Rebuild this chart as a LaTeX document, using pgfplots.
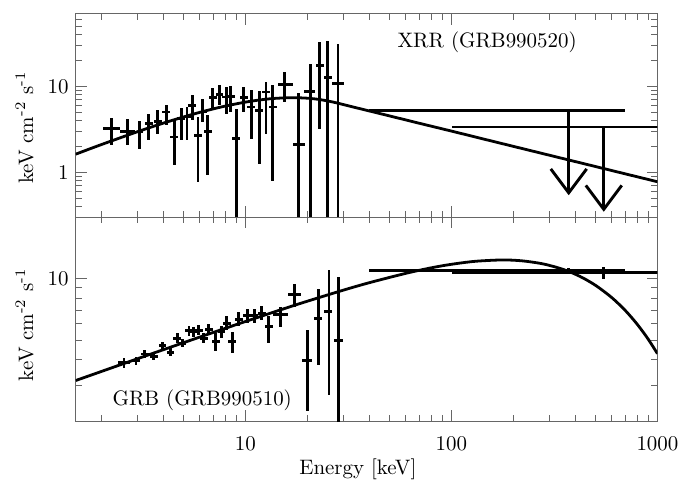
\documentclass[border=0pt]{standalone}
\usepackage{pgfplots}
\pgfplotsset{compat=1.18}
\usepackage{pgfplotstable}
\usetikzlibrary{arrows.meta,calc}

% XRR GRB990520 : WFC points  (E, F, E range, F range)
\pgfplotstableread{
E F Elo Ehi Flo Fhi
2.245 3.222 2.045 2.462 2.100 4.291
2.683 2.997 2.462 2.910 2.061 4.211
3.051 2.950 2.917 3.188 1.886 3.917
3.400 3.684 3.250 3.553 2.400 4.815
3.757 3.917 3.592 3.926 2.818 5.259
4.139 5.039 3.957 4.325 3.587 6.127
4.524 2.580 4.325 4.728 1.206 4.211
4.890 4.211 4.675 5.110 2.356 5.609
5.204 4.408 4.975 5.438 2.356 5.761
5.526 6.014 5.283 5.775 4.024 8.008
5.883 2.693 5.624 6.148 0.773 4.408
6.219 5.039 5.945 6.499 3.855 7.194
6.553 2.997 6.265 6.848 0.923 4.600
6.950 7.389 6.644 7.263 5.504 9.581
7.487 8.072 7.158 7.824 6.014 10.27
8.069 7.528 7.714 8.432 4.815 9.840
8.492 7.650 8.118 8.874 5.039 10.11
9.048 2.466 8.650 9.455 0.05 5.504
9.81 7.449 9.378 10.25 5.039 9.840
10.69 5.761 10.22 11.17 2.466 8.985
11.69 5.259 11.18 12.22 1.262 8.748
12.59 8.607 12.04 13.16 2.818 11.25
13.55 5.761 12.95 14.16 0.786 10.47
15.55 10.55 14.32 16.93 6.587 14.71
18.09 2.117 16.93 19.49 0.05 8.380
20.61 8.748 19.28 21.79 0.05 18.37
22.96 17.55 21.90 24.00 3.222 32.84
24.98 12.86 24.00 26.40 0.05 34.26
28.14 10.95 26.41 30.08 0.05 31.37
}\xrrwfc

% XRR upper limits (GRBM)
\pgfplotstableread{
E F Elo Ehi
371 5.2 39.7 698
549 3.37 101 1200
}\xrrul

% XRR model
\pgfplotstableread{
E F
1.5 1.625
2 2.104
3 2.976
4 3.741
5 4.408
6 4.99
7 5.487
8 5.913
10 6.57
12 7.01
14 7.27
17 7.40
20 7.30
23 7.03
27 6.53
35 5.60
50 4.54
70 3.72
100 3.02
150 2.374
200 2.003
300 1.577
500 1.167
700 0.957
1000 0.776
}\xrrmodel

% GRB990510 : WFC points
\pgfplotstableread{
E F Elo Ehi Flo Fhi
2.574 3.879 2.412 2.746 3.667 4.103
2.942 3.967 2.815 3.075 3.793 4.149
3.252 4.272 3.111 3.398 4.084 4.468
3.594 4.164 3.438 3.756 3.981 4.355
3.959 4.696 3.787 4.137 4.490 4.912
4.327 4.355 4.139 4.522 4.164 4.555
4.658 5.097 4.456 4.868 4.819 5.392
4.945 4.819 4.730 5.168 4.607 5.040
5.323 5.557 5.092 5.563 5.254 5.878
5.609 5.495 5.366 5.861 5.195 5.813
5.928 5.594 5.671 6.195 5.289 5.917
6.268 5.097 5.996 6.550 4.819 5.392
6.648 5.657 6.359 6.947 5.348 5.984
7.165 4.912 6.854 7.487 4.420 5.391
7.657 5.495 7.325 8.002 5.137 5.878
8.123 6.033 7.770 8.489 5.577 6.526
8.625 4.912 8.251 9.013 4.306 5.495
9.282 6.332 8.879 9.700 5.853 6.850
10.19 6.577 9.748 10.65 6.080 7.115
11.05 6.577 10.57 11.55 6.080 7.115
11.99 6.750 11.47 12.53 6.240 7.302
12.96 5.811 12.40 13.54 4.819 6.577
14.76 6.674 13.55 16.01 5.811 7.278
17.25 8.356 16.01 18.58 7.278 9.454
20.0 3.967 18.79 21.14 2.253 5.594
22.60 6.381 21.6 23.6 3.777 8.937
25.45 6.880 24.0 26.4 2.696 10.98
28.23 5.0 26.9 29.74 1.0 10.19
}\grbwfc

% GRB990510 : GRBM points
\pgfplotstableread{
E F Elo Ehi Flo Fhi
371 10.98 39.7 698 10.62 11.28
549 10.7 101 1200 9.92 11.40
}\grbgrbm

% GRB model
\pgfplotstableread{
E F
1.5 3.169
2 3.511
3 4.055
4 4.488
6 5.172
8 5.713
10 6.166
15 7.063
20 7.754
30 8.791
40 9.554
60 10.61
80 11.30
100 11.75
130 12.15
176 12.34
220 12.22
280 11.79
350 11.08
420 10.26
500 9.276
600 8.076
700 6.961
800 5.955
900 5.067
1000 4.290
}\grbmodel

\begin{document}
\begin{tikzpicture}[font=\fontsize{10.5}{12.5}\selectfont]
% ---------------- top panel ----------------
\begin{axis}[name=top,
  xmode=log, ymode=log, scale only axis, width=292pt, height=102pt,
  xmin=1.5, xmax=1000, ymin=0.3, ymax=70,
  axis line style={black!60, line width=0.5pt},
  every tick/.style={black!60, line width=0.5pt},
  major tick length=5.5pt, minor tick length=3pt,
  xtick={10,100,1000}, xticklabels={},
  minor xtick={2,3,4,5,6,7,8,9,20,30,40,50,60,70,80,90,200,300,400,500,600,700,800,900},
  ytick={1,10}, yticklabels={1,10},
  minor ytick={0.3,0.4,0.5,0.6,0.7,0.8,0.9,2,3,4,5,6,7,8,9,20,30,40,50,60,70},
  ylabel={keV cm\textsuperscript{-2} s\textsuperscript{-1}},
  ylabel style={at={(axis description cs:-0.088,0.44)}, anchor=center},
]
\addplot[black, line width=1.4pt, smooth, mark=none] table[x=E,y=F] {\xrrmodel};
\addplot[draw=none, mark=none,
  error bars/.cd, x dir=both, y dir=both, x explicit, y explicit,
  error mark=none, error bar style={draw=black, solid, line width=1.45pt}]
  table[x=E, y=F,
  x error plus expr=\thisrow{Ehi}-\thisrow{E},
  x error minus expr=\thisrow{E}-\thisrow{Elo},
  y error plus expr=\thisrow{Fhi}-\thisrow{F},
  y error minus expr=\thisrow{F}-\thisrow{Flo}] {\xrrwfc};
\addplot[draw=none, mark=none,
  error bars/.cd, x dir=both, x explicit, error mark=none,
  error bar style={draw=black, solid, line width=1.45pt}]
  table[x=E, y=F,
  x error plus expr=\thisrow{Ehi}-\thisrow{E},
  x error minus expr=\thisrow{E}-\thisrow{Elo}] {\xrrul};
\addplot[black, line width=1.45pt, -{Straight Barb[length=12pt,width=18pt,line width=1.45pt]}]
  coordinates {(371,5.2) (371,0.54)};
\addplot[black, line width=1.45pt, -{Straight Barb[length=12pt,width=18pt,line width=1.45pt]}]
  coordinates {(549,3.37) (549,0.347)};
\node[anchor=center] at (axis cs:149,32.5) {XRR (GRB990520)};
\end{axis}
% ---------------- bottom panel ----------------
\begin{axis}[name=bot,
  at={(top.south west)}, anchor=north west,
  xmode=log, ymode=log, scale only axis, width=292pt, height=102.5pt,
  xmin=1.5, xmax=1000, ymin=2, ymax=20,
  axis line style={black!60, line width=0.5pt},
  every tick/.style={black!60, line width=0.5pt},
  major tick length=5.5pt, minor tick length=3pt,
  xtick={10,100,1000}, xticklabels={10,100,1000},
  minor xtick={2,3,4,5,6,7,8,9,20,30,40,50,60,70,80,90,200,300,400,500,600,700,800,900},
  ytick={10}, yticklabels={10},
  minor ytick={2,3,4,5,6,7,8,9,20},
  xticklabel style={yshift=-4pt},
  ylabel={keV cm\textsuperscript{-2} s\textsuperscript{-1}},
  ylabel style={at={(axis description cs:-0.088,0.473)}, anchor=center},
  xlabel={Energy [keV]},
  xlabel style={at={(axis description cs:0.485,-0.235)}, anchor=center},
]
\addplot[black, line width=1.4pt, smooth, mark=none] table[x=E,y=F] {\grbmodel};
\addplot[draw=none, mark=none,
  error bars/.cd, x dir=both, y dir=both, x explicit, y explicit,
  error mark=none, error bar style={draw=black, solid, line width=1.45pt}]
  table[x=E, y=F,
  x error plus expr=\thisrow{Ehi}-\thisrow{E},
  x error minus expr=\thisrow{E}-\thisrow{Elo},
  y error plus expr=\thisrow{Fhi}-\thisrow{F},
  y error minus expr=\thisrow{F}-\thisrow{Flo}] {\grbwfc};
\addplot[draw=none, mark=none,
  error bars/.cd, x dir=both, y dir=both, x explicit, y explicit,
  error mark=none, error bar style={draw=black, solid, line width=1.45pt}]
  table[x=E, y=F,
  x error plus expr=\thisrow{Ehi}-\thisrow{E},
  x error minus expr=\thisrow{E}-\thisrow{Elo},
  y error plus expr=\thisrow{Fhi}-\thisrow{F},
  y error minus expr=\thisrow{F}-\thisrow{Flo}] {\grbgrbm};
\node[anchor=center] at (axis cs:6.17,2.55) {GRB (GRB990510)};
\end{axis}
\path ($(top.north west)+(-38pt,7pt)$) rectangle ($(bot.south east)+(12.5pt,-30.5pt)$);
\end{tikzpicture}
\end{document}
